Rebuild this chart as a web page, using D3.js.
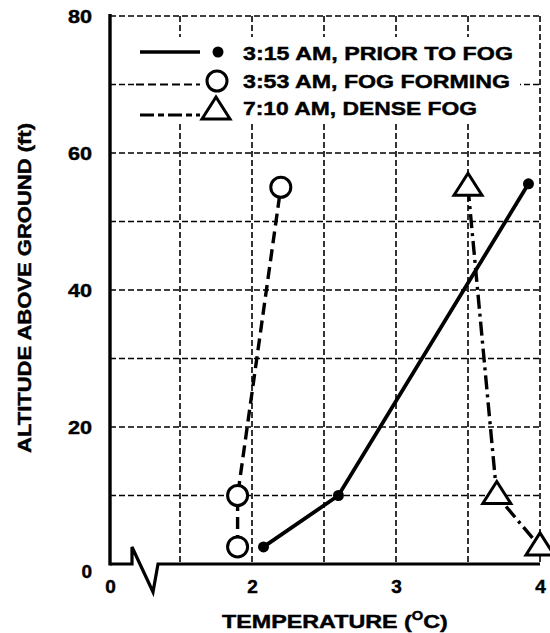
<!DOCTYPE html>
<meta charset="utf-8">
<style>
body { margin: 0; background: #fff; }
text { font-family: "Liberation Sans", Arial, sans-serif; font-weight: bold; fill: #000; stroke: #000; stroke-width: 0.45px; }
.grid line { stroke: #000; stroke-width: 1.6; stroke-dasharray: 6,3; }
</style>
<body>
<script src="https://d3js.org/d3.v7.min.js"></script>
<script>

// readings from the picture: temperature (deg C) vs altitude (ft)
var seriesNames = ["3:15 AM, PRIOR TO FOG", "3:53 AM, FOG FORMING", "7:10 AM, DENSE FOG"];
var priorTemp = [2.08, 2.6, 3.92],  priorAlt = [2.5, 10, 55.5];
var formingTemp = [1.9, 1.9, 2.2],  formingAlt = [2.5, 10, 55];
var denseTemp = [3.5, 3.7, 4.0],    denseAlt = [55, 10, 2.5];
var xTickLabels = [0, 2, 3, 4];
var yTickLabels = [0, 20, 40, 60, 80];
var xGrid = [1.5, 2, 2.5, 3, 3.5, 4];
var yGrid = [10, 20, 30, 40, 50, 60, 70, 80];

var width = 550, height = 633;

// broken axis: 0 sits at the origin, the scale really starts near 1.5
var x = d3.scaleLinear().domain([0, 1.5, 4]).range([110, 180, 540]);
var y = d3.scaleLinear().domain([0, 80]).range([564, 16]);

var svg = d3.select("body").append("svg")
    .attr("width", width)
    .attr("height", height);

function zip(a, b) { return a.map(function(v, i) { return [v, b[i]]; }); }

// grid
var grid = svg.append("g").attr("class", "grid");
grid.selectAll(".gx").data(xGrid).enter().append("line")
    .attr("x1", function(d) { return x(d); }).attr("x2", function(d) { return x(d); })
    .attr("y1", y(80)).attr("y2", y(0));
grid.selectAll(".gy").data(yGrid).enter().append("line")
    .attr("x1", x(0)).attr("x2", x(4))
    .attr("y1", function(d) { return y(d); }).attr("y2", function(d) { return y(d); });

// legend background hides the grid behind it
svg.append("rect")
    .attr("x", 136).attr("y", 37).attr("width", 384).attr("height", 85)
    .attr("fill", "#fff");

// axes lines: left solid, bottom solid with a break symbol
svg.append("line")
    .attr("x1", x(0)).attr("x2", x(0)).attr("y1", y(80) - 2).attr("y2", y(0) + 1.5)
    .attr("stroke", "#000").attr("stroke-width", 3.4);
var y0 = y(0);
svg.append("path")
    .attr("d", "M" + x(0) + "," + y0 + "H132V" + (y0 - 17) + "L153," + (y0 + 28) + "L158," + y0 + "H" + x(4))
    .attr("fill", "none").attr("stroke", "#000").attr("stroke-width", 3.2)
    .attr("stroke-linejoin", "miter");

// tick labels via d3 axes
var xAxis = svg.append("g")
    .attr("transform", "translate(0," + y0 + ")")
    .call(d3.axisBottom(x).tickValues(xTickLabels).tickSize(0).tickPadding(16).tickFormat(d3.format("d")));
var yAxis = svg.append("g")
    .attr("transform", "translate(" + x(0) + ",0)")
    .call(d3.axisLeft(y).tickValues(yTickLabels).tickSize(0).tickPadding(18));
[xAxis, yAxis].forEach(function(a) {
    a.select(".domain").remove();
    a.selectAll("text")
        .style("font-size", "19px")
        .style("font-family", "'Liberation Sans', Arial, sans-serif")
        .style("font-weight", "bold")
        .style("stroke", "#000").style("stroke-width", "0.45px")
        .attr("fill", "#000");
});
yAxis.selectAll("text").filter(function(d) { return d > 0; })
    .attr("textLength", 24).attr("lengthAdjust", "spacingAndGlyphs");
yAxis.selectAll("text").filter(function(d) { return d === 0; }).attr("dy", "0.7em");

// axis titles
var xtg = svg.append("g");
var xt = xtg.append("text").style("font-size", "19px");
xt.append("tspan").text("TEMPERATURE (");
xt.append("tspan").text("O").style("font-size", "12px").attr("dy", -8);
xt.append("tspan").text("C)").attr("dy", 8);
var xtw = xt.node().getComputedTextLength();
xtg.attr("transform", "translate(222,628) scale(" + (226 / xtw) + ",1)");

svg.append("text")
    .attr("transform", "translate(31,453) rotate(-90)")
    .attr("textLength", 330).attr("lengthAdjust", "spacingAndGlyphs")
    .style("font-size", "19px")
    .text("ALTITUDE ABOVE GROUND (ft)");

// series lines
var line = d3.line().x(function(d) { return x(d[0]); }).y(function(d) { return y(d[1]); });
var prior = zip(priorTemp, priorAlt),
    forming = zip(formingTemp, formingAlt),
    dense = zip(denseTemp, denseAlt);

svg.append("path").datum(prior).attr("d", line)
    .attr("fill", "none").attr("stroke", "#000").attr("stroke-width", 3.8);
svg.append("path").datum(forming).attr("d", line)
    .attr("fill", "none").attr("stroke", "#000").attr("stroke-width", 3.4)
    .attr("stroke-dasharray", "12,6");
svg.append("path").datum(dense).attr("d", line)
    .attr("fill", "none").attr("stroke", "#000").attr("stroke-width", 3.4)
    .attr("stroke-dasharray", "14,5,3,5");

var tri = "M0,-13L14,9L-14,9Z";

// markers
svg.selectAll(".dot").data(prior).enter().append("circle")
    .attr("cx", function(d) { return x(d[0]); }).attr("cy", function(d) { return y(d[1]); })
    .attr("r", 5.5).attr("fill", "#000");
svg.selectAll(".ring").data(forming).enter().append("circle")
    .attr("cx", function(d) { return x(d[0]); }).attr("cy", function(d) { return y(d[1]); })
    .attr("r", 10).attr("fill", "#fff").attr("stroke", "#000").attr("stroke-width", 3);
svg.selectAll(".tri").data(dense).enter().append("path")
    .attr("d", tri)
    .attr("transform", function(d) { return "translate(" + x(d[0]) + "," + (y(d[1]) - 1) + ")"; })
    .attr("fill", "#fff").attr("stroke", "#000").attr("stroke-width", 3)
    .attr("stroke-linejoin", "miter");

// legend
var leg = svg.append("g");
leg.append("line").attr("x1", 140).attr("x2", 200).attr("y1", 52).attr("y2", 52)
    .attr("stroke", "#000").attr("stroke-width", 3.4);
leg.append("circle").attr("cx", 218).attr("cy", 52).attr("r", 5.5).attr("fill", "#000");

leg.append("line").attr("x1", 136).attr("x2", 200).attr("y1", y(70)).attr("y2", y(70))
    .attr("stroke", "#000").attr("stroke-width", 2.2).attr("stroke-dasharray", "8,4");
leg.append("circle").attr("cx", 217).attr("cy", 81).attr("r", 10)
    .attr("fill", "#fff").attr("stroke", "#000").attr("stroke-width", 3);

leg.append("line").attr("x1", 140).attr("x2", 200).attr("y1", 115).attr("y2", 115)
    .attr("stroke", "#000").attr("stroke-width", 2.8).attr("stroke-dasharray", "14,4,6,4");
leg.append("path").attr("d", tri).attr("transform", "translate(216,110)")
    .attr("fill", "#fff").attr("stroke", "#000").attr("stroke-width", 3);

var legendWidths = [270, 267, 234];
leg.selectAll(".lt").data(seriesNames).enter().append("text")
    .attr("x", 243)
    .attr("y", function(d, i) { return [60, 88, 115][i]; })
    .attr("textLength", function(d, i) { return legendWidths[i]; })
    .attr("lengthAdjust", "spacingAndGlyphs")
    .style("font-size", "19px")
    .text(function(d) { return d; });

</script>
